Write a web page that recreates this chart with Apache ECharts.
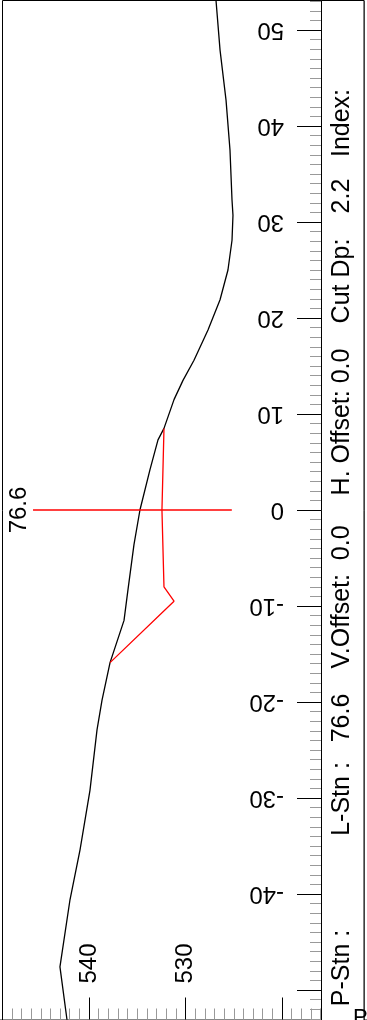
<!DOCTYPE html>
<html>
<head>
<meta charset="utf-8">
<script src="https://cdn.jsdelivr.net/npm/echarts@6/dist/echarts.min.js"></script>
<style>
html,body{margin:0;padding:0;background:#fff;}
#c{width:367px;height:1020px;}
</style>
</head>
<body>
<div id="c"></div>
<script>
// Ground profile: offset (m) and elevation
const groundOffset = [53.1, 47.9, 42.7, 37.5, 32.3, 30.7, 28.1, 25.0, 21.9, 18.75, 15.6, 13.5, 11.5, 8.5, 7.3, 4.2, 0, -3.6, -8.3, -11.5, -15.9, -19.8, -22.9, -29.2, -35.4, -40.6, -47.6, -53.1];
const groundElev   = [526.84, 526.42, 525.80, 525.39, 525.18, 525.08, 525.18, 525.60, 526.42, 527.67, 529.12, 530.26, 531.19, 532.23, 532.85, 533.68, 534.72, 535.34, 535.96, 536.37, 537.82, 538.65, 539.17, 539.90, 540.93, 541.97, 543.01, 542.28];
// Design section (red)
const designOffset = [8.5, 0, -8.0, -9.5, -15.9];
const designElev   = [532.23, 532.44, 532.23, 531.19, 537.82];
// Station marker line (red, at offset 0)
const markerOffset = [0, 0];
const markerElev   = [545.8, 525.2];
const markerLabel  = '76.6';
// Info panel texts
const infoTexts = ['Index:', '2.2', 'Cut Dp:', 'H. Offset: 0.0', 'V.Offset:  0.0', '76.6', 'L-Stn :', 'P-Stn :'];
const infoY     = [123, 196, 281, 422, 597, 718, 799, 968];
const cornerText = 'P';

const FONT = '"Liberation Sans", Arial, sans-serif';
const zip = (a, b) => a.map((v, i) => [v, b[i]]);

const chart = echarts.init(document.getElementById('c'), null, {renderer: 'canvas'});

const graphics = [
  {type: 'rect', z: 50, shape: {x: 321.5, y: 0.5, width: 42.5, height: 1100},
   style: {fill: '#fff', stroke: '#000', lineWidth: 1}},
  {type: 'rect', z: 49, shape: {x: 2.5, y: 0.5, width: 361.5, height: 1100},
   style: {fill: 'none', stroke: '#000', lineWidth: 1}}
];
infoTexts.forEach((t, i) => {
  graphics.push({type: 'text', z: 51, x: 342, y: infoY[i], rotation: Math.PI / 2,
    style: {text: t, font: '25px ' + FONT, fill: '#000', align: 'center', verticalAlign: 'middle',
            textAlign: 'center', textVerticalAlign: 'middle'}});
});
graphics.push({type: 'text', z: 51, x: 353, y: 1007,
  style: {text: cornerText, font: '22px ' + FONT, fill: '#000', align: 'left', verticalAlign: 'top',
          textAlign: 'left', textVerticalAlign: 'top'}});

chart.setOption({
  animation: false,
  backgroundColor: '#fff',
  grid: {left: -7.5, width: 386, top: -66, height: 1152, outerBoundsMode: 'none', containLabel: false},
  xAxis: {
    type: 'value', min: 510, max: 550, interval: 10, inverse: true,
    position: 'bottom', offset: -66.5,
    axisLine: {show: true, onZero: false, lineStyle: {color: '#888', width: 1}},
    axisTick: {show: true, inside: true, length: 22, lineStyle: {color: '#000', width: 1}},
    minorTick: {show: true, splitNumber: 10, length: 11, lineStyle: {color: '#999', width: 1}},
    axisLabel: {inside: true, rotate: 90, margin: 36, align: 'left', verticalAlign: 'middle',
      fontSize: 24, fontFamily: FONT, color: '#000',
      formatter: v => (v > 525 && v < 548) ? String(v) : ''},
    splitLine: {show: false}, minorSplitLine: {show: false}
  },
  yAxis: {
    type: 'value', min: -60, max: 60, interval: 10,
    position: 'right', offset: -57.5,
    axisLine: {show: true, onZero: false, lineStyle: {color: '#000', width: 1}},
    axisTick: {show: true, inside: true, length: 24, lineStyle: {color: '#000', width: 1}},
    minorTick: {show: true, splitNumber: 10, length: 11, lineStyle: {color: '#999', width: 1}},
    axisLabel: {inside: true, rotate: 180, margin: 37, align: 'left', verticalAlign: 'middle',
      fontSize: 24, fontFamily: FONT, color: '#000',
      formatter: v => (v > -45 && v < 55) ? String(v) : ''},
    splitLine: {show: false}, minorSplitLine: {show: false}
  },
  series: [
    {type: 'line', data: zip(groundElev, groundOffset), symbol: 'none', z: 3,
     lineStyle: {color: '#000', width: 1.3}},
    {type: 'line', data: zip(designElev, designOffset), symbol: 'none', z: 4,
     lineStyle: {color: '#f00', width: 1.3}},
    {type: 'line', z: 4, showSymbol: true, symbol: 'circle', symbolSize: 0.01,
     itemStyle: {color: '#f00'},
     lineStyle: {color: '#f00', width: 1.3},
     data: markerElev.map((e, i) => i === 0 ? {
        value: [e, markerOffset[i]],
        label: {show: true, formatter: markerLabel, position: 'left', distance: 2, rotate: 90,
                align: 'center', verticalAlign: 'bottom', fontSize: 24, fontFamily: FONT, color: '#000'}
      } : [e, markerOffset[i]])
    }
  ],
  graphic: graphics
});
</script>
</body>
</html>
